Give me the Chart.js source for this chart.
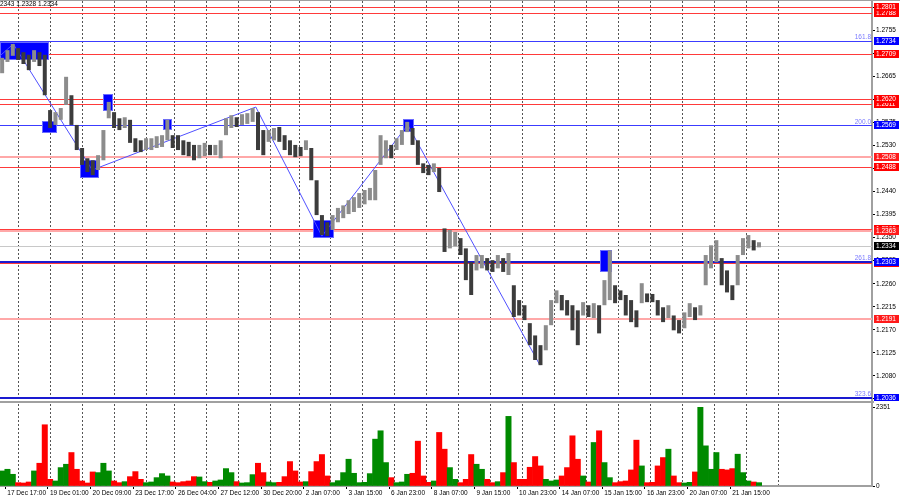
<!DOCTYPE html>
<html>
<head>
<meta charset="utf-8">
<script src="https://cdn.jsdelivr.net/npm/chart.js@4.4.1/dist/chart.umd.min.js"></script>
<style>
  body { margin: 0; background: #fff; width: 900px; height: 500px; overflow: hidden; }
  #topLine { height: 1px; width: 900px; background: #a0a0a0; }
  #sep { height: 2px; width: 874px; background: #a0a0a0; }
  canvas { display: block; }
</style>
</head>
<body>
<div id="topLine"></div>
<canvas id="priceChart" width="900" height="400"></canvas>
<div id="sep"></div>
<canvas id="volumeChart" width="900" height="97"></canvas>
<script>
// price bars, one every 4 hours (low / high)
const priceLow = [1.2671,1.2693,1.2705,1.2697,1.2689,1.2677,1.2693,1.2685,1.2628,1.2564,
  1.2570,1.2580,1.2609,1.2570,1.2521,1.2492,1.2478,1.2472,1.2482,1.2501,
  1.2583,1.2564,1.2560,1.2564,1.2535,1.2517,1.2517,1.2521,1.2521,1.2525,
  1.2527,1.2540,1.2525,1.2521,1.2511,1.2509,1.2501,1.2505,1.2509,1.2511,
  1.2511,1.2505,1.2550,1.2564,1.2566,1.2570,1.2572,1.2576,1.2521,1.2511,
  1.2537,1.2540,1.2537,1.2521,1.2511,1.2507,1.2509,1.2521,1.2462,1.2394,
  1.2355,1.2353,1.2365,1.2380,1.2388,1.2396,1.2400,1.2408,1.2415,1.2423,
  1.2423,1.2492,1.2505,1.2505,1.2521,1.2531,1.2556,1.2531,1.2492,1.2476,
  1.2472,1.2478,1.2439,1.2322,1.2329,1.2333,1.2316,1.2267,1.2238,1.2286,
  1.2290,1.2286,1.2283,1.2290,1.2283,1.2277,1.2195,1.2198,1.2189,1.2140,
  1.2111,1.2101,1.2130,1.2179,1.2222,1.2208,1.2198,1.2169,1.2140,1.2198,
  1.2195,1.2193,1.2163,1.2218,1.2228,1.2222,1.2228,1.2198,1.2185,1.2175,
  1.2222,1.2224,1.2224,1.2198,1.2185,1.2193,1.2169,1.2163,1.2173,1.2195,
  1.2189,1.2198,1.2257,1.2290,1.2302,1.2257,1.2243,1.2228,1.2257,1.2316,
  1.2329,1.2325,1.2331];
const priceHigh = [1.2701,1.2716,1.2728,1.2720,1.2712,1.2707,1.2716,1.2712,1.2707,1.2599,
  1.2595,1.2603,1.2664,1.2628,1.2570,1.2525,1.2505,1.2501,1.2511,1.2560,
  1.2615,1.2595,1.2583,1.2585,1.2580,1.2544,1.2540,1.2544,1.2544,1.2548,
  1.2550,1.2580,1.2550,1.2550,1.2540,1.2537,1.2531,1.2531,1.2535,1.2531,
  1.2531,1.2540,1.2583,1.2589,1.2585,1.2591,1.2593,1.2603,1.2595,1.2560,
  1.2560,1.2564,1.2566,1.2550,1.2540,1.2531,1.2527,1.2540,1.2525,1.2462,
  1.2394,1.2380,1.2394,1.2408,1.2413,1.2423,1.2429,1.2437,1.2443,1.2447,
  1.2482,1.2550,1.2540,1.2531,1.2544,1.2560,1.2576,1.2564,1.2540,1.2495,
  1.2492,1.2495,1.2486,1.2368,1.2365,1.2361,1.2349,1.2329,1.2302,1.2316,
  1.2316,1.2310,1.2306,1.2316,1.2310,1.2320,1.2257,1.2228,1.2218,1.2183,
  1.2159,1.2140,1.2179,1.2228,1.2247,1.2238,1.2228,1.2218,1.2208,1.2224,
  1.2218,1.2222,1.2218,1.2267,1.2325,1.2257,1.2247,1.2238,1.2228,1.2208,
  1.2261,1.2241,1.2240,1.2228,1.2214,1.2218,1.2198,1.2189,1.2204,1.2222,
  1.2214,1.2218,1.2316,1.2335,1.2345,1.2310,1.2286,1.2257,1.2316,1.2349,
  1.2355,1.2345,1.2341];
const volume = [450,500,350,100,90,120,450,680,1830,200,
  150,550,650,1000,500,150,90,420,400,680,
  450,150,100,130,280,430,200,100,120,250,
  370,300,120,100,130,150,280,270,130,110,
  150,180,520,400,130,90,100,340,680,400,
  120,100,110,280,730,450,120,130,430,730,
  940,300,100,160,400,800,380,100,110,370,
  1400,1650,700,250,100,120,350,380,1340,300,
  110,150,1600,1100,550,200,100,200,940,650,
  500,200,100,130,400,2080,700,200,200,560,
  880,600,200,150,180,300,550,1500,800,300,
  120,1300,1650,700,250,100,130,150,480,1370,
  600,100,110,600,850,1100,300,100,90,110,
  420,2351,1200,500,1000,500,480,520,950,400,
  150,120,100];

const timeLabels = ["17 Dec 17:00","19 Dec 01:00","20 Dec 09:00","23 Dec 17:00","26 Dec 04:00",
  "27 Dec 12:00","30 Dec 20:00","2 Jan 07:00","3 Jan 15:00","6 Jan 23:00","8 Jan 07:00",
  "9 Jan 15:00","10 Jan 23:00","14 Jan 07:00","15 Jan 15:00","16 Jan 23:00","20 Jan 07:00","21 Jan 15:00"];
// day separators, in bar units
const dayLines = [3.1,9.1,15.1,21.1,27.1,32.3,38.4,44.3,50.3,55.7,61.7,67.6,73.6,79.6,
  85.6,91.6,97.6,103.6,109.6,115.6,121.6,127.6,133.6,139.6,145.6];
const priceTicks = [1.2800,1.2755,1.2710,1.2665,1.2620,1.2575,1.2530,1.2485,1.2440,1.2395,
  1.2350,1.2305,1.2260,1.2215,1.2170,1.2125,1.2080,1.2035];
const volumeTicks = [0, 2351];

// horizontal levels
const redLevels = [1.2366,1.2488,1.2611,1.2620,1.2709,1.2788,1.2801];
const pinkLevels = [1.2508,1.2363,1.2191];
const redUnderline = [1.2301];
const fiboValues = [1.2734,1.2569,1.2303,1.2036];
const fiboLabels = ["161.8","200.0","261.8","323.6"];
const strongLevels = [1.2303,1.2036];
const currentPrice = 1.2334;
const headerText = "2343 1.2328 1.2334";

// zigzag (bar, price)
const zigX = [-0.4, 2.1, 16.9, 47.6, 60.0, 76.1, 100.9];
const zigY = [1.2705, 1.2728, 1.2482, 1.2605, 1.2353, 1.2570, 1.2101];

// blue marker boxes (bar range, price range)
const boxStart = [-0.4, 7.5, 14.6, 18.9, 30.2, 58.3, 75.2, 112.1];
const boxEnd = [8.8, 10.3, 18.2, 20.8, 31.9, 62.2, 77.3, 114.4];
const boxLow = [1.2697, 1.2554, 1.2466, 1.2597, 1.2560, 1.2349, 1.2556, 1.2283];
const boxHigh = [1.2732, 1.2578, 1.2501, 1.2630, 1.2581, 1.2384, 1.2581, 1.2325];

const xMin = -0.4, xMax = 163.2;
const FONT = {family: "'Liberation Sans', Arial, sans-serif", size: 6.5};
const fontString = `${FONT.size}px ${FONT.family}`;

// bar direction decides the colour
const rising = priceLow.map((lo, i) => {
    const mid = (lo + priceHigh[i]) / 2;
    const prev = i ? (priceLow[i - 1] + priceHigh[i - 1]) / 2 : mid;
    return mid >= prev;
});

const levelsPlugin = {
    id: 'levels',
    beforeDatasetsDraw(chart) {
        const {ctx, chartArea: area, scales: {x, y}} = chart;
        ctx.save();
        const hline = (v, color, width) => {
            const py = Math.round(y.getPixelForValue(v)) + (width % 2 ? 0.5 : 0);
            ctx.strokeStyle = color;
            ctx.lineWidth = width;
            ctx.beginPath();
            ctx.moveTo(area.left, py);
            ctx.lineTo(area.right, py);
            ctx.stroke();
        };
        hline(currentPrice, '#c8c8c8', 1);
        pinkLevels.forEach(v => hline(v, '#ffa8a8', 2));
        redLevels.forEach(v => hline(v, '#ff3a3a', 1));
        redUnderline.forEach(v => hline(v, '#ff3a3a', 1));
        fiboValues.forEach(v => hline(v, '#3c3cff', 1));
        strongLevels.forEach(v => hline(v, '#1a1ad0', 2));

        // blue boxes
        ctx.fillStyle = '#0000ff';
        ctx.strokeStyle = '#6c6cff';
        ctx.lineWidth = 1;
        boxStart.forEach((s, k) => {
            const x1 = Math.round(x.getPixelForValue(s));
            const x2 = Math.round(x.getPixelForValue(boxEnd[k]));
            const y1 = Math.round(y.getPixelForValue(boxHigh[k]));
            const y2 = Math.round(y.getPixelForValue(boxLow[k]));
            ctx.fillRect(x1, y1, x2 - x1, y2 - y1);
            ctx.strokeRect(x1 + 0.5, y1 + 0.5, x2 - x1 - 1, y2 - y1 - 1);
        });
        ctx.restore();
    },
    afterDraw(chart) {
        const {ctx, chartArea: area, scales: {y}} = chart;
        ctx.save();
        ctx.font = fontString;

        // fibo texts
        ctx.textAlign = 'right';
        ctx.textBaseline = 'bottom';
        ctx.fillStyle = '#7a7aff';
        fiboValues.forEach((v, k) => {
            ctx.fillText(fiboLabels[k], area.right - 1, y.getPixelForValue(v) - 0.5);
        });

        // price tags on the axis
        ctx.textAlign = 'left';
        ctx.textBaseline = 'middle';
        const tag = (v, bg) => {
            const py = Math.round(y.getPixelForValue(v));
            ctx.fillStyle = bg;
            ctx.fillRect(area.right + 2, py - 4, 25, 8);
            ctx.fillStyle = '#fff';
            ctx.fillText(v.toFixed(4), area.right + 4, py);
        };
        redUnderline.forEach(v => tag(v, '#ff0000'));
        redLevels.forEach(v => tag(v, '#ff0000'));
        pinkLevels.forEach(v => tag(v, '#ff1a1a'));
        fiboValues.forEach(v => tag(v, '#0000ff'));
        tag(currentPrice, '#000');

        // header line
        ctx.fillStyle = '#000';
        ctx.textBaseline = 'top';
        ctx.fillText(headerText, 0, 0);
        ctx.restore();
    }
};

// time labels start just right of their tick mark
const timeLabelPlugin = {
    id: 'timeLabels',
    afterDraw(chart) {
        const {ctx, chartArea: area, scales: {x}} = chart;
        ctx.save();
        ctx.font = fontString;
        ctx.fillStyle = '#000';
        ctx.textAlign = 'left';
        ctx.textBaseline = 'top';
        timeLabels.forEach((t, k) => {
            ctx.fillText(t, x.getPixelForValue(0.6 + 8 * k) + 2, area.bottom + 4);
        });
        ctx.restore();
    }
};

new Chart(document.getElementById('priceChart'), {
    data: {
        datasets: [{
            type: 'bar',
            data: priceLow.map((lo, i) => ({x: i, y: [lo, priceHigh[i]]})),
            backgroundColor: rising.map(r => r ? '#8c8c8c' : '#3c3c3c'),
            barPercentage: 0.75,
            categoryPercentage: 1
        }, {
            type: 'line',
            data: zigX.map((v, k) => ({x: v, y: zigY[k]})),
            borderColor: '#5050ff',
            borderWidth: 1,
            pointRadius: 0,
            tension: 0
        }]
    },
    options: {
        responsive: false,
        animation: false,
        devicePixelRatio: 1,
        layout: {padding: 0},
        plugins: {legend: {display: false}, tooltip: {enabled: false}},
        scales: {
            x: {
                type: 'linear', min: xMin, max: xMax, offset: false,
                afterBuildTicks: axis => { axis.ticks = dayLines.map(v => ({value: v})); },
                afterFit: axis => { axis.height = 0; axis.paddingLeft = 0; axis.paddingRight = 0; },
                ticks: {display: false},
                grid: {color: '#555', lineWidth: 1, drawTicks: false, offset: false},
                border: {display: false, dash: [2, 2]}
            },
            y: {
                position: 'right', min: 1.2031, max: 1.2812,
                afterBuildTicks: axis => { axis.ticks = priceTicks.map(v => ({value: v})); },
                afterFit: axis => { axis.width = 28; axis.paddingTop = 0; axis.paddingBottom = 0; },
                ticks: {font: FONT, color: '#000', padding: 1, callback: v => v.toFixed(4)},
                grid: {drawOnChartArea: false, tickLength: 3, tickColor: '#000'},
                border: {color: '#a0a0a0', width: 2}
            }
        }
    },
    plugins: [levelsPlugin]
});

new Chart(document.getElementById('volumeChart'), {
    type: 'bar',
    data: {
        datasets: [{
            data: volume.map((v, i) => ({x: i, y: v})),
            xAxisID: 'x',
            backgroundColor: rising.map(r => r ? '#008a00' : '#ff0000'),
            barPercentage: 1,
            categoryPercentage: 1
        }]
    },
    options: {
        responsive: false,
        animation: false,
        devicePixelRatio: 1,
        layout: {padding: {top: 1}},
        plugins: {legend: {display: false}, tooltip: {enabled: false}},
        scales: {
            xDay: {
                type: 'linear', position: 'bottom', min: xMin, max: xMax, offset: false,
                afterBuildTicks: axis => { axis.ticks = dayLines.map(v => ({value: v})); },
                afterFit: axis => { axis.height = 0; axis.paddingLeft = 0; axis.paddingRight = 0; },
                ticks: {display: false},
                grid: {color: '#555', lineWidth: 1, drawTicks: false, offset: false},
                border: {display: false, dash: [2, 2]}
            },
            x: {
                type: 'linear', position: 'bottom', min: xMin, max: xMax, offset: false,
                afterBuildTicks: axis => { axis.ticks = timeLabels.map((t, k) => ({value: 0.6 + 8 * k})); },
                afterFit: axis => { axis.height = 14; axis.paddingLeft = 0; axis.paddingRight = 0; },
                ticks: {display: false},
                grid: {drawOnChartArea: false, tickLength: 3, tickColor: '#000', offset: false},
                border: {color: '#a0a0a0', width: 2}
            },
            y: {
                position: 'right', min: 0, max: 2450,
                afterBuildTicks: axis => { axis.ticks = volumeTicks.map(v => ({value: v})); },
                afterFit: axis => { axis.width = 28; axis.paddingTop = 0; axis.paddingBottom = 0; },
                ticks: {font: FONT, color: '#000', padding: 1, callback: v => String(v)},
                grid: {drawOnChartArea: false, tickLength: 3, tickColor: '#000'},
                border: {color: '#a0a0a0', width: 2}
            }
        }
    },
    plugins: [timeLabelPlugin]
});
</script>
</body>
</html>
